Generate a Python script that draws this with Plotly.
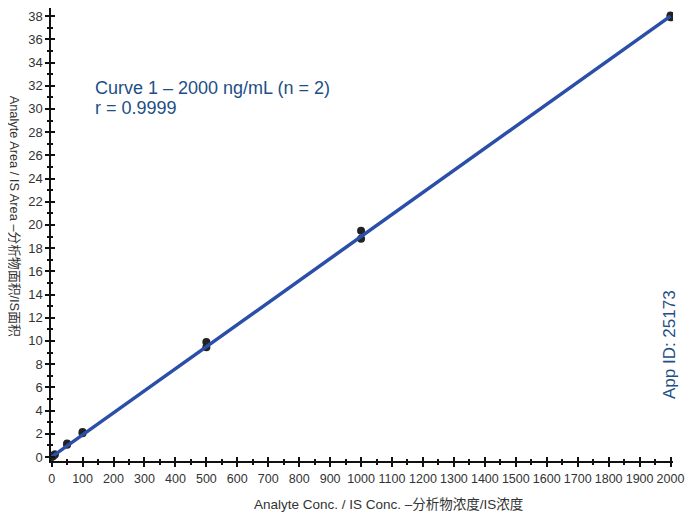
import plotly.graph_objects as go

conc = [1, 1, 2, 2, 5, 5, 10, 10, 50, 50, 100, 100, 500, 500, 1000, 1000, 2000, 2000]
ratio = [0.02, 0.03, 0.04, 0.05, 0.1, 0.11, 0.2, 0.22, 1.15, 1.05, 2.05, 2.15,
         9.9, 9.45, 19.5, 18.8, 38.05, 37.9]
fit_x = [0, 2000]
slope = 0.019
intercept = 0.0
fit_y = [slope * v + intercept for v in fit_x]

FONT = "Liberation Sans, Arial, Noto Sans CJK SC, sans-serif"
BLUE_TXT = "#1d4f86"
LINE_BLUE = "#2b4fa8"

fig = go.Figure()
fig.add_trace(go.Scatter(x=conc, y=ratio, mode="markers",
                         marker=dict(color="#222222", size=8), showlegend=False))
fig.add_trace(go.Scatter(x=fit_x, y=fit_y, mode="lines",
                         line=dict(color=LINE_BLUE, width=3.5), showlegend=False))
# invisible trace for overlay axes (crossing ticks)
fig.add_trace(go.Scatter(x=[0], y=[0], xaxis="x2", yaxis="y2", mode="markers",
                         marker=dict(opacity=0), showlegend=False, hoverinfo="skip"))

xr = [-2, 2008]
yr = [-0.35, 38.7]
common = dict(showgrid=False, zeroline=False, showline=True, linecolor="#111",
              linewidth=1.5, tickcolor="#111", ticklen=4, tickwidth=2, automargin=False)

# page body has an 8px margin, so the figure is sized to fit inside it
fig.update_layout(
    width=679, height=509,
    margin=dict(l=43, r=14, t=0, b=56),
    paper_bgcolor="white", plot_bgcolor="white",
    font=dict(family=FONT, size=13, color="#333"),
    xaxis=dict(range=xr, tickmode="linear", tick0=0, dtick=100, ticks="outside",
               minor=dict(dtick=50, ticks="outside", ticklen=2, tickwidth=2, tickcolor="#111"),
               tickfont=dict(size=12.5, color="#333"), ticklabelstandoff=1, **common),
    yaxis=dict(range=yr, tickmode="linear", tick0=0, dtick=2, ticks="outside",
               minor=dict(dtick=1, ticks="outside", ticklen=2, tickwidth=2, tickcolor="#111"),
               tickfont=dict(size=13, color="#333"), **common),
    xaxis2=dict(range=xr, overlaying="x", anchor="y2", side="bottom", tickmode="linear",
                tick0=0, dtick=100, ticks="inside", showticklabels=False,
                minor=dict(dtick=50, ticks="inside", ticklen=2, tickwidth=2, tickcolor="#111"),
                **common),
    yaxis2=dict(range=yr, overlaying="y", anchor="x2", side="left", tickmode="linear",
                tick0=0, dtick=2, ticks="inside", showticklabels=False,
                minor=dict(dtick=1, ticks="inside", ticklen=2, tickwidth=2, tickcolor="#111"),
                **common),
)

fig.add_annotation(text="Analyte Conc. / IS Conc. –分析物浓度/IS浓度",
                   xref="paper", yref="paper", x=0.543, y=-0.097, xanchor="center",
                   yanchor="middle", showarrow=False,
                   font=dict(size=13.5, color="#333", family=FONT))
fig.add_annotation(text="Analyte Area / IS Area –分析物面积/IS面积", textangle=90,
                   xref="paper", yref="paper", x=-0.059, y=0.541, xanchor="center",
                   yanchor="middle", showarrow=False,
                   font=dict(size=12.8, color="#333", family=FONT))
fig.add_annotation(text="Curve 1 – 2000 ng/mL (n = 2)",
                   xref="paper", yref="paper", x=0.0675, y=0.823, xanchor="left",
                   yanchor="middle", align="left", showarrow=False,
                   font=dict(size=18, color=BLUE_TXT, family=FONT))
fig.add_annotation(text="r = 0.9999",
                   xref="paper", yref="paper", x=0.0675, y=0.779, xanchor="left",
                   yanchor="middle", align="left", showarrow=False,
                   font=dict(size=18, color=BLUE_TXT, family=FONT))
fig.add_annotation(text="App ID: 25173", textangle=-90,
                   xref="paper", yref="paper", x=0.9936, y=0.256, xanchor="center",
                   yanchor="middle", showarrow=False,
                   font=dict(size=17, color=BLUE_TXT, family=FONT))

fig.write_html("out.html")
